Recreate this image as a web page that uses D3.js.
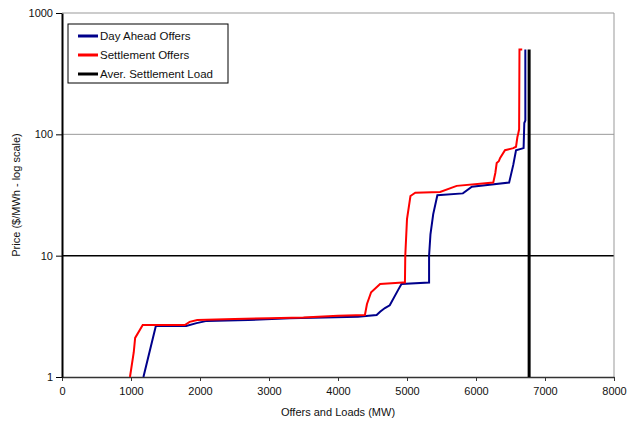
<!DOCTYPE html>
<html>
<head>
<meta charset="utf-8">
<script src="https://cdn.jsdelivr.net/npm/d3@7"></script>
<style>
  body { margin: 0; background: #fff; }
  text { font-family: "Liberation Sans", Arial, sans-serif; fill: #111; }
</style>
</head>
<body>
<div id="chart"></div>
<script>
// Day ahead offers (MW, $/MWh)
var dayAheadMW = [1180, 1360, 1800, 1950, 2100, 2700, 3300, 3800, 4290, 4560, 4610, 4680, 4750, 4870, 4920, 5320, 5320, 5340, 5380, 5440, 5810, 5940, 6480, 6540, 6580, 6690, 6700, 6715, 6715];
var dayAheadPrice = [1, 2.63, 2.63, 2.78, 2.9, 2.95, 3.05, 3.1, 3.14, 3.24, 3.45, 3.7, 3.9, 5.2, 5.85, 6.0, 10, 15, 22, 31.5, 32.6, 37, 40, 56, 74, 77, 124, 130, 500];

// Settlement offers
var settleMW = [985, 1040, 1060, 1170, 1780, 1850, 1960, 2500, 3000, 3500, 4000, 4390, 4420, 4480, 4610, 4940, 4970, 4975, 5000, 5050, 5120, 5480, 5720, 6250, 6280, 6300, 6330, 6350, 6420, 6540, 6580, 6600, 6610, 6625, 6630, 6670];
var settlePrice = [1, 1.6, 2.1, 2.68, 2.68, 2.85, 2.95, 3.0, 3.05, 3.1, 3.2, 3.24, 4.0, 5.0, 5.85, 6.0, 6.0, 10, 20, 31, 33, 33.5, 37.6, 40, 48, 58, 60, 64, 74, 77, 79, 95, 100, 110, 500, 500];

// Average settlement load
var loadMW = [6770, 6770];
var loadPrice = [1, 500];

var xTicks = [0, 1000, 2000, 3000, 4000, 5000, 6000, 7000, 8000];
var yTicks = [1, 10, 100, 1000];

var legendNames = ["Day Ahead Offers", "Settlement Offers", "Aver. Settlement Load"];

var svgWidth = 627;
var svgHeight = 422;

var margin = { top: 13, right: 13, bottom: 45, left: 62 };
var width = svgWidth - margin.left - margin.right;
var height = svgHeight - margin.top - margin.bottom;

var svg = d3.select("#chart")
  .append("svg")
  .attr("width", svgWidth)
  .attr("height", svgHeight);

var chartGroup = svg.append("g")
  .attr("transform", `translate(${margin.left}, ${margin.top})`);

var xScale = d3.scaleLinear().domain([0, 8000]).range([0, width]);
var yScale = d3.scaleLog().domain([1, 1000]).range([height, 0]);

// gridlines and frame
chartGroup.append("line")
  .attr("x1", 0).attr("x2", width)
  .attr("y1", yScale(100)).attr("y2", yScale(100))
  .attr("stroke", "#999").attr("stroke-width", 1);

chartGroup.append("line")
  .attr("x1", 0).attr("x2", width)
  .attr("y1", yScale(10)).attr("y2", yScale(10))
  .attr("stroke", "#000").attr("stroke-width", 1.5);

chartGroup.append("path")
  .attr("d", `M0,${yScale(1000)}H${width}V${height}`)
  .attr("fill", "none")
  .attr("stroke", "#999")
  .attr("stroke-width", 1);

// axes
var bottomAxis = d3.axisBottom(xScale)
  .tickValues(xTicks)
  .tickSize(4)
  .tickSizeOuter(0)
  .tickPadding(6)
  .tickFormat(d3.format("d"));

var leftAxis = d3.axisLeft(yScale)
  .tickValues(yTicks)
  .tickSize(6)
  .tickSizeOuter(0)
  .tickPadding(3)
  .tickFormat(d3.format("d"));

var xAxis = chartGroup.append("g")
  .attr("transform", `translate(0, ${height})`)
  .call(bottomAxis);

var yAxis = chartGroup.append("g")
  .call(leftAxis);

xAxis.select(".domain").attr("stroke", "#333").attr("stroke-width", 1.5);
xAxis.selectAll(".tick line").attr("stroke", "#333");
yAxis.select(".domain").attr("stroke", "#000").attr("stroke-width", 2);
yAxis.selectAll(".tick line").attr("stroke", "#000");
chartGroup.selectAll(".tick text")
  .attr("font-size", 11)
  .attr("font-family", "'Liberation Sans', Arial, sans-serif")
  .attr("fill", "#111");

// series
var line = d3.line()
  .x(d => xScale(d[0]))
  .y(d => yScale(d[1]));

var series = [
  { mw: dayAheadMW, price: dayAheadPrice, color: "#00008b", w: 2 },
  { mw: settleMW, price: settlePrice, color: "#ff0000", w: 2 },
  { mw: loadMW, price: loadPrice, color: "#000", w: 3 }
];

series.forEach(function(s) {
  var pts = s.mw.map((m, i) => [m, s.price[i]]);
  chartGroup.append("path")
    .datum(pts)
    .attr("d", line)
    .attr("fill", "none")
    .attr("stroke", s.color)
    .attr("stroke-width", s.w)
    .attr("stroke-linejoin", "miter");
});

// legend
var legend = svg.append("g")
  .attr("transform", "translate(68, 24)");

legend.append("rect")
  .attr("width", 160)
  .attr("height", 59)
  .attr("fill", "#fff")
  .attr("stroke", "#000")
  .attr("stroke-width", 1);

legendNames.forEach(function(name, i) {
  var row = legend.append("g")
    .attr("transform", `translate(0, ${12 + i * 19})`);
  row.append("line")
    .attr("x1", 10).attr("x2", 30)
    .attr("y1", 0).attr("y2", 0)
    .attr("stroke", series[i].color)
    .attr("stroke-width", 3);
  row.append("text")
    .attr("x", 32)
    .attr("y", 4)
    .attr("font-size", 11.5)
    .text(name);
});

// axis titles
svg.append("text")
  .attr("x", margin.left + width / 2)
  .attr("y", 416)
  .attr("text-anchor", "middle")
  .attr("font-size", 11)
  .text("Offers and Loads (MW)");

svg.append("text")
  .attr("transform", `translate(20, ${margin.top + height / 2}) rotate(-90)`)
  .attr("text-anchor", "middle")
  .attr("font-size", 11)
  .text("Price ($/MWh - log scale)");
</script>
</body>
</html>
